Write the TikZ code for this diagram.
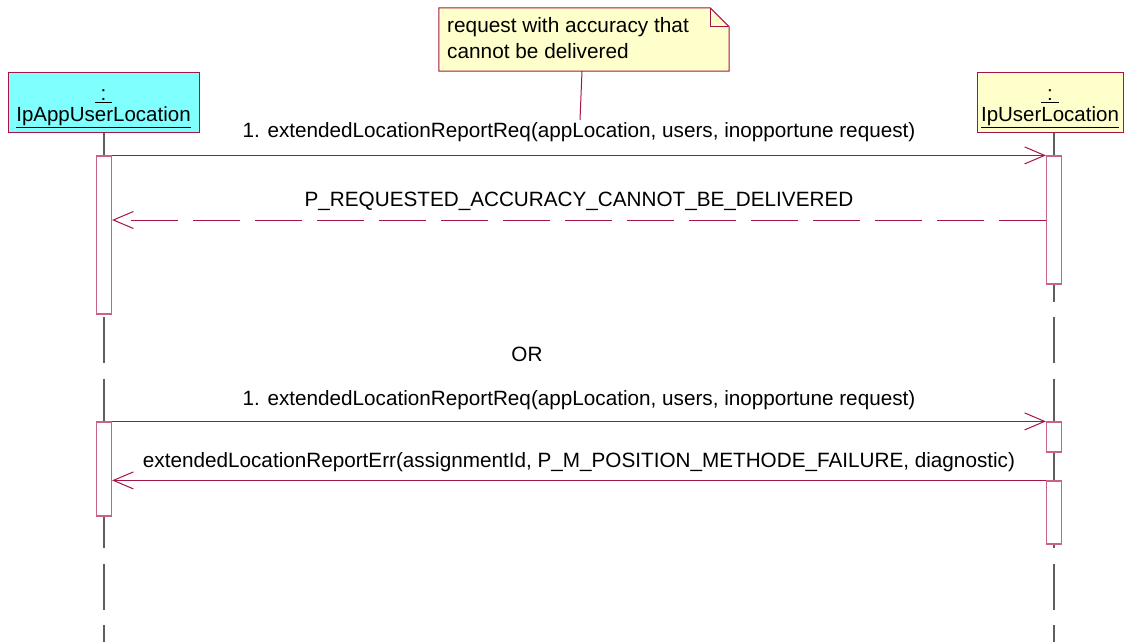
\documentclass[tikz,border=0pt]{standalone}
\usepackage{fontspec}
\setmainfont{Liberation Sans}
\usetikzlibrary{arrows.meta}
\definecolor{umlred}{RGB}{165,20,70}
\definecolor{actred}{RGB}{200,100,130}
\definecolor{lifegray}{RGB}{95,95,95}
\definecolor{appcyan}{RGB}{128,255,255}
\definecolor{noteyellow}{RGB}{255,255,204}
\tikzset{
  objbox/.style={draw=umlred, line width=1pt, minimum height=59pt, inner sep=0pt, align=center,
    font=\fontsize{20.5}{21}\selectfont},
  lifeline/.style={draw=lifegray, line width=1.2pt, dash pattern=on 46pt off 15.6pt},
  actbox/.style={draw=actred, fill=white, line width=1.2pt, minimum width=15pt, inner sep=0pt},
  msg/.style={draw=umlred, line width=1pt, -{Straight Barb[length=20pt,width=17pt]}},
  retmsg/.style={msg, dash pattern=on 47pt off 15pt},
  msglabel/.style={font=\fontsize{20.7}{24}\selectfont, inner sep=0pt}
}
\begin{document}
\begin{tikzpicture}[x=1pt,y=-1pt]

    \useasboundingbox (0,0) rectangle (1128,642);

    \node[objbox, fill=appcyan, minimum width=191pt] (app) at (103.5,102.5)
       {\rule{0pt}{23pt}\underline{\ :\ }\\\underline{IpAppUserLocation}};
    \node[objbox, fill=noteyellow, minimum width=146pt] (ul) at (1050,102.5)
       {\rule{0pt}{23pt}\underline{\ :\ }\\\underline{IpUserLocation}};
    \coordinate (append) at (104,642);
    \coordinate (ulend) at (1054,642);
     \draw[lifeline] (app.south -| append) to (append);
     \draw[lifeline] (ul.south -| ulend) to (ulend);

    \node[actbox, minimum height=158pt] (appact1) at (104,235) {};
    \node[actbox, minimum height=128pt] (ulact1) at (1054,220) {};
    \node[actbox, minimum height=94pt] (appact2) at (104,469) {};
    \node[actbox, minimum height=30pt] (ulact2) at (1054,437) {};
    \node[actbox, minimum height=63pt] (ulact3) at (1054,512.5) {};

    \draw[msg] (appact1.north east) to
       node[msglabel, above=13pt]{1. extendedLocationReportReq(appLocation, users, inopportune request)}
       (ulact1.north west);
    \draw[retmsg] (ulact1.west) to
       node[msglabel, above=9pt]{P\_REQUESTED\_ACCURACY\_CANNOT\_BE\_DELIVERED}
       (appact1.east |- ulact1.west);

    \node[msglabel] (or) at (527,354) {OR};

    \draw[msg] (appact2.north east) to
       node[msglabel, above=11pt]{1. extendedLocationReportReq(appLocation, users, inopportune request)}
       (ulact2.north west);
    \draw[msg] (ulact3.north west) to
       node[msglabel, above=8pt]{extendedLocationReportErr(assignmentId, P\_M\_POSITION\_METHODE\_FAILURE, diagnostic)}
       (appact2.east |- ulact3.north west);

    \node[minimum width=290pt, minimum height=63pt, inner sep=0pt] (note) at (584,39.5) {};
    \draw[draw=umlred, fill=noteyellow, line width=1pt] (note.north west) -- ([xshift=-19pt]note.north east)
       -- ([yshift=-19pt]note.north east) -- (note.south east) -- (note.south west) -- cycle;
    \draw[draw=umlred, line width=1pt] ([xshift=-19pt]note.north east) -- ([xshift=-19pt,yshift=-19pt]note.north east)
       -- ([yshift=-19pt]note.north east);
    \node[anchor=west, align=left, inner sep=0pt, font=\fontsize{20.8}{26}\selectfont] (notetext)
       at (447,38.5) {request with accuracy that\\cannot be delivered};
    \coordinate (noteend) at (580,120);
    \draw[draw=umlred, line width=1pt] ([xshift=-2pt]note.south) to (noteend);

  \end{tikzpicture}
\end{document}
